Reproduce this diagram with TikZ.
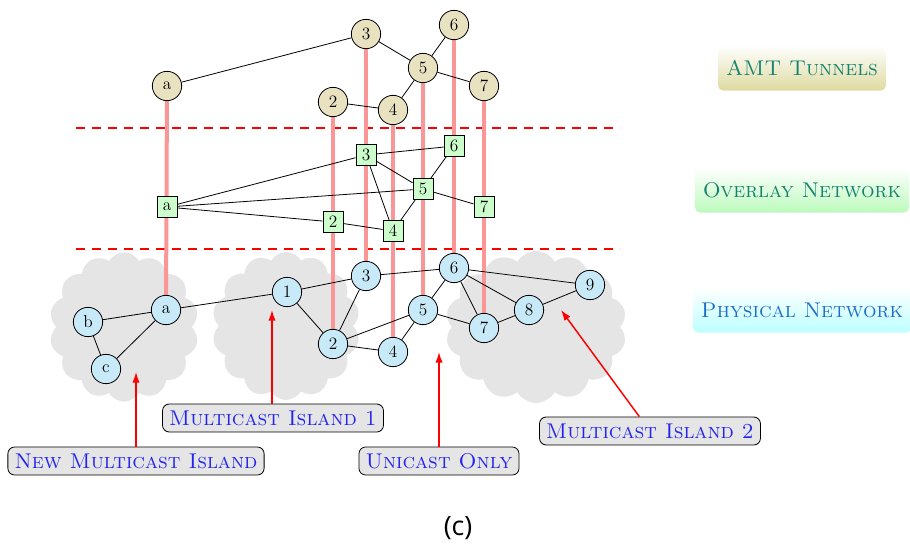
\documentclass[tikz,border=0pt]{standalone}
\usepackage{fontspec}
\newfontfamily\capfont{Open Sans}
\usetikzlibrary{shapes.symbols,arrows.meta}

\definecolor{amtfill}{RGB}{232,226,192}
\definecolor{ovlfill}{RGB}{204,255,204}
\definecolor{phyfill}{RGB}{200,234,248}
\definecolor{tiecol}{RGB}{250,150,150}
\definecolor{cloudgray}{RGB}{229,229,229}
\definecolor{tealtxt}{RGB}{20,130,110}
\definecolor{bluetxt}{RGB}{30,110,200}
\definecolor{islandtxt}{RGB}{35,35,240}
\definecolor{amtshade}{RGB}{222,218,160}
\definecolor{ovlshade}{RGB}{188,250,188}
\definecolor{physhade}{RGB}{188,255,255}

\pgfdeclarelayer{clouds}
\pgfdeclarelayer{background}
\pgfsetlayers{clouds,background,main}

\tikzset{
  nodefont/.style={font=\fontsize{13}{15}\selectfont},
  amt/.style={circle, draw, line width=0.6pt, fill=amtfill, minimum size=22pt, inner sep=0pt, nodefont},
  ovl/.style={rectangle, draw, line width=0.6pt, fill=ovlfill, minimum width=15pt, minimum height=16pt, inner sep=0pt, nodefont},
  phy/.style={circle, draw, line width=0.6pt, fill=phyfill, minimum size=22pt, inner sep=0pt, nodefont},
  link/.style={draw, line width=0.6pt},
  tie/.style={draw=tiecol, line width=3pt},
  layerline/.style={draw=red, line width=1.1pt, dash pattern=on 7pt off 5pt},
  island/.style={cloud, cloud puffs=14, cloud puff arc=120, fill=cloudgray, draw=none, inner sep=0pt},
  tag/.style={rounded corners=5pt, draw, line width=0.6pt, fill=cloudgray, text=islandtxt,
    font=\fontsize{16}{19}\selectfont\scshape, inner xsep=5pt, inner ysep=0pt, minimum height=21pt},
  layertag/.style={rounded corners=4pt, minimum height=34pt, inner xsep=6pt, top color=white,
    font=\fontsize{16}{19}\selectfont\scshape},
  pointer/.style={draw=red, line width=1.1pt, -{Latex[length=8pt,width=5.5pt]}},
}

\begin{document}
\begin{tikzpicture}[x=0.75pt,y=-0.75pt]
\useasboundingbox (0,0) rectangle (910,545);

% ---- AMT tunnel layer
\node[amt] (t-a) at (167,86) {a};
\node[amt] (t-3) at (366,34) {3};
\node[amt] (t-6) at (454,25) {6};
\node[amt] (t-5) at (423,68) {5};
\node[amt] (t-7) at (484,86) {7};
\node[amt] (t-2) at (333,102) {2};
\node[amt] (t-4) at (393,110) {4};

% ---- overlay layer
\node[ovl] (o-a) at (167,207) {a};
\node[ovl] (o-3) at (366,155) {3};
\node[ovl] (o-6) at (454,146) {6};
\node[ovl] (o-5) at (423,189) {5};
\node[ovl] (o-7) at (484,207) {7};
\node[ovl] (o-2) at (333,222) {2};
\node[ovl] (o-4) at (393,231) {4};

% ---- physical layer
\node[phy] (p-a) at (166,310) {a};
\node[phy] (p-b) at (88,322) {b};
\node[phy] (p-c) at (106,369) {c};
\node[phy] (p-1) at (287,292) {1};
\node[phy] (p-2) at (333,344) {2};
\node[phy] (p-3) at (366,276) {3};
\node[phy] (p-4) at (393,352) {4};
\node[phy] (p-5) at (423,310) {5};
\node[phy] (p-6) at (454,268) {6};
\node[phy] (p-7) at (484,328) {7};
\node[phy] (p-8) at (529,310) {8};
\node[phy] (p-9) at (590,285) {9};

% ---- multicast islands
\begin{pgfonlayer}{clouds}
  \node[island, minimum width=112pt, minimum height=112pt] (cl-new) at (124,327) {};
  \node[island, minimum width=111pt, minimum height=111pt] (cl-one) at (286,326) {};
  \node[island, minimum width=136pt, minimum height=114pt] (cl-two) at (536,327) {};
\end{pgfonlayer}

\begin{pgfonlayer}{background}
  % layer separators
  \coordinate (sepA-w) at (76,128);  \coordinate (sepA-e) at (620,128);
  \coordinate (sepB-w) at (76,249);  \coordinate (sepB-e) at (620,249);
  \draw[layerline] (sepA-w) -- (sepA-e);
  \draw[layerline] (sepB-w) -- (sepB-e);

  % vertical ties between layers
  \foreach \n in {a,2,3,4,5,6,7}
    \draw[tie] (t-\n.center) -- (p-\n.center);

  % tunnel links
  \draw[link] (t-a) -- (t-3);
  \draw[link] (t-3) -- (t-5);
  \draw[link] (t-5) -- (t-6);
  \draw[link] (t-5) -- (t-7);
  \draw[link] (t-5) -- (t-4);
  \draw[link] (t-2) -- (t-4);

  % overlay links
  \draw[link] (o-a) -- (o-3);
  \draw[link] (o-a) -- (o-5);
  \draw[link] (o-a) -- (o-2);
  \draw[link] (o-2) -- (o-4);
  \draw[link] (o-3) -- (o-6);
  \draw[link] (o-3) -- (o-5);
  \draw[link] (o-3) -- (o-4);
  \draw[link] (o-5) -- (o-6);
  \draw[link] (o-5) -- (o-7);
  \draw[link] (o-5) -- (o-4);

  % physical links
  \draw[link] (p-a) -- (p-b);
  \draw[link] (p-b) -- (p-c);
  \draw[link] (p-c) -- (p-a);
  \draw[link] (p-a) -- (p-1);
  \draw[link] (p-1) -- (p-3);
  \draw[link] (p-1) -- (p-2);
  \draw[link] (p-2) -- (p-3);
  \draw[link] (p-2) -- (p-5);
  \draw[link] (p-2) -- (p-4);
  \draw[link] (p-4) -- (p-5);
  \draw[link] (p-3) -- (p-6);
  \draw[link] (p-5) -- (p-6);
  \draw[link] (p-5) -- (p-7);
  \draw[link] (p-6) -- (p-7);
  \draw[link] (p-6) -- (p-8);
  \draw[link] (p-6) -- (p-9);
  \draw[link] (p-7) -- (p-8);
  \draw[link] (p-8) -- (p-9);
\end{pgfonlayer}

% ---- layer titles
\node[layertag, bottom color=amtshade, text=tealtxt] (lt-amt) at (802,68) {AMT Tunnels};
\node[layertag, bottom color=ovlshade, text=tealtxt] (lt-ovl) at (802,190) {Overlay Network};
\node[layertag, bottom color=physhade, text=bluetxt] (lt-phy) at (802,310) {Physical Network};

% ---- island captions and pointers
\node[tag] (tg-new) at (136,461) {New Multicast Island};
\node[tag] (tg-one) at (273,418) {Multicast Island 1};
\node[tag] (tg-uni) at (439,461) {Unicast Only};
\node[tag] (tg-two) at (650,431) {Multicast Island 2};

\coordinate (tip-new) at (136,372);
\coordinate (tip-one) at (272,310);
\coordinate (tip-uni) at (439,352);
\coordinate (tip-two) at (561,310);

\draw[pointer] (tg-new.north) -- (tip-new);
\draw[pointer] (tg-one.north -| tip-one) -- (tip-one);
\draw[pointer] (tg-uni.north) -- (tip-uni);
\draw[pointer] ([xshift=-8pt]tg-two.north) -- (tip-two);

% ---- caption
\node[font=\capfont\fontsize{20}{24}\selectfont] (cap) at (458,528) {(c)};
\end{tikzpicture}
\end{document}
